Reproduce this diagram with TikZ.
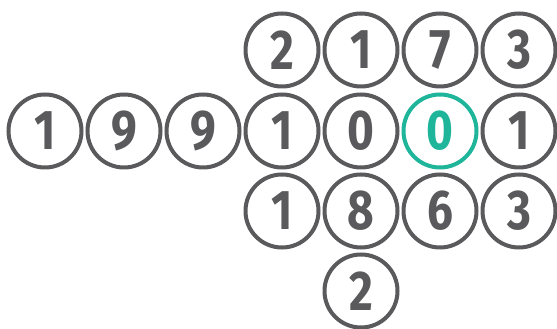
\documentclass[tikz,border=0pt]{standalone}
\usepackage{fontspec}
\setmainfont{Fira Sans}
\newfontfamily\digitfont[FakeStretch=0.82]{Fira Sans}
\usepackage{xcolor}
\definecolor{digitgray}{HTML}{5A5A5C}
\definecolor{digitteal}{HTML}{1FB59B}

\begin{document}
\begin{tikzpicture}[x=1pt, y=1pt,
  digit/.style={circle, draw=digitgray, text=digitgray, line width=4pt,
    minimum size=73pt, inner sep=0pt,
    font=\digitfont\fontsize{56}{56}\selectfont\bfseries},
  marked/.style={digit, draw=digitteal, text=digitteal}]
\useasboundingbox (0,0) rectangle (557,329);

% top row
\node[digit] (t4) at (282,279) {2};
\node[digit] (t5) at (361,279) {1};
\node[digit] (t6) at (440,279) {7};
\node[digit] (t7) at (519,279) {3};

% middle row
\node[digit] (m1) at (45,198) {1};
\node[digit] (m2) at (124,198) {9};
\node[digit] (m3) at (203,198) {9};
\node[digit] (m4) at (282,198) {1};
\node[digit] (m5) at (361,198) {0};
\node[marked] (m6) at (440,198) {0};
\node[digit] (m7) at (519,198) {1};

% bottom rows
\node[digit] (b4) at (282,118) {1};
\node[digit] (b5) at (361,118) {8};
\node[digit] (b6) at (440,118) {6};
\node[digit] (b7) at (519,118) {3};

\node[digit] (z5) at (361,38) {2};
\end{tikzpicture}
\end{document}
